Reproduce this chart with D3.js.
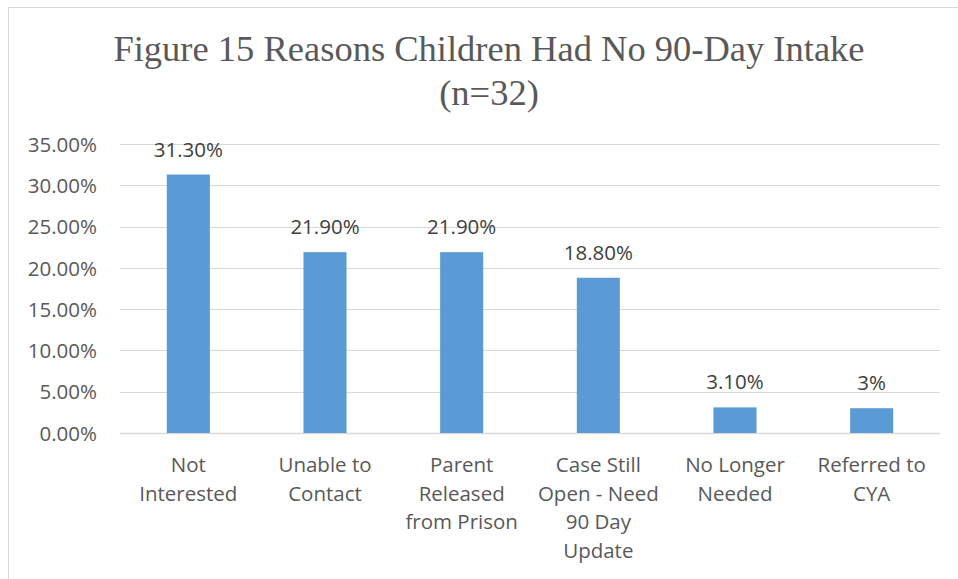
<!DOCTYPE html>
<html>
<head>
<meta charset="utf-8">
<script src="https://cdn.jsdelivr.net/npm/d3@7"></script>
<style>
  html, body { margin: 0; padding: 0; background: #fff; }
  svg { display: block; }
</style>
</head>
<body>
<svg id="chart" width="958" height="579"></svg>
<script>
// Reasons children had no 90-day intake (share of n=32)
const categories = [
  ["Not", "Interested"],
  ["Unable to", "Contact"],
  ["Parent", "Released", "from Prison"],
  ["Case Still", "Open - Need", "90 Day", "Update"],
  ["No Longer", "Needed"],
  ["Referred to", "CYA"]
];
const values = [31.3, 21.9, 21.9, 18.8, 3.1, 3];
const valueLabels = ["31.30%", "21.90%", "21.90%", "18.80%", "3.10%", "3%"];
const yTicks = [0, 5, 10, 15, 20, 25, 30, 35];
const titleLines = ["Figure 15 Reasons Children Had No 90-Day Intake", "(n=32)"];

const svg = d3.select("#chart");
const W = 958, H = 579;
const plot = { left: 120, right: 940, top: 144, bottom: 433 };

const sansFont = "'Open Sans', 'Noto Sans', sans-serif";
const serifFont = "'Liberation Serif', 'DejaVu Serif', serif";
const labelSize = 20.5;

// chart frame
svg.append("rect")
  .attr("x", 8.5).attr("y", 7.5)
  .attr("width", W + 20).attr("height", H + 20)
  .attr("fill", "none").attr("stroke", "#d9d9d9").attr("stroke-width", 1);

// title
svg.append("g").selectAll("text")
  .data(titleLines)
  .join("text")
  .attr("x", 489)
  .attr("y", (d, i) => 61 + i * 44)
  .attr("text-anchor", "middle")
  .attr("font-family", serifFont)
  .attr("font-size", 36.5)
  .attr("fill", "#595959")
  .text(d => d);

const x = d3.scaleBand()
  .domain(d3.range(categories.length))
  .range([plot.left, plot.right])
  .paddingInner(0.685)
  .paddingOuter(0.3425);

const y = d3.scaleLinear()
  .domain([0, 35])
  .range([plot.bottom, plot.top]);

// gridlines
svg.append("g")
  .selectAll("line")
  .data(yTicks)
  .join("line")
  .attr("x1", plot.left).attr("x2", plot.right)
  .attr("y1", d => Math.round(y(d)) + 0.5)
  .attr("y2", d => Math.round(y(d)) + 0.5)
  .attr("stroke", "#d9d9d9")
  .attr("stroke-width", d => d === 0 ? 1.5 : 1);

// y axis labels
const yAxis = d3.axisLeft(y)
  .tickValues(yTicks)
  .tickFormat(d => d3.format(".2f")(d) + "%")
  .tickSize(0)
  .tickPadding(0);
const yg = svg.append("g")
  .attr("transform", `translate(97,0)`)
  .call(yAxis);
yg.select(".domain").remove();
yg.selectAll("text")
  .attr("font-family", sansFont)
  .attr("font-size", labelSize)
  .attr("fill", "#595959")
  .attr("dy", "0.35em");

// bars
svg.append("g")
  .selectAll("rect")
  .data(values)
  .join("rect")
  .attr("x", (d, i) => x(i))
  .attr("width", x.bandwidth())
  .attr("y", d => y(d))
  .attr("height", d => y(0) - y(d))
  .attr("fill", "#5b9bd5");

// value labels
svg.append("g")
  .selectAll("text")
  .data(values)
  .join("text")
  .attr("x", (d, i) => x(i) + x.bandwidth() / 2)
  .attr("y", d => y(d) - 18)
  .attr("text-anchor", "middle")
  .attr("font-family", sansFont)
  .attr("font-size", labelSize)
  .attr("fill", "#404040")
  .text((d, i) => valueLabels[i]);

// category labels
const cg = svg.append("g")
  .selectAll("text")
  .data(categories)
  .join("text")
  .attr("x", (d, i) => x(i) + x.bandwidth() / 2)
  .attr("y", 472)
  .attr("text-anchor", "middle")
  .attr("font-family", sansFont)
  .attr("font-size", labelSize)
  .attr("fill", "#595959");
cg.selectAll("tspan")
  .data(d => d)
  .join("tspan")
  .attr("x", function () { return this.parentNode.getAttribute("x"); })
  .attr("dy", (d, i) => i === 0 ? 0 : 28.5)
  .text(d => d);
</script>
</body>
</html>
